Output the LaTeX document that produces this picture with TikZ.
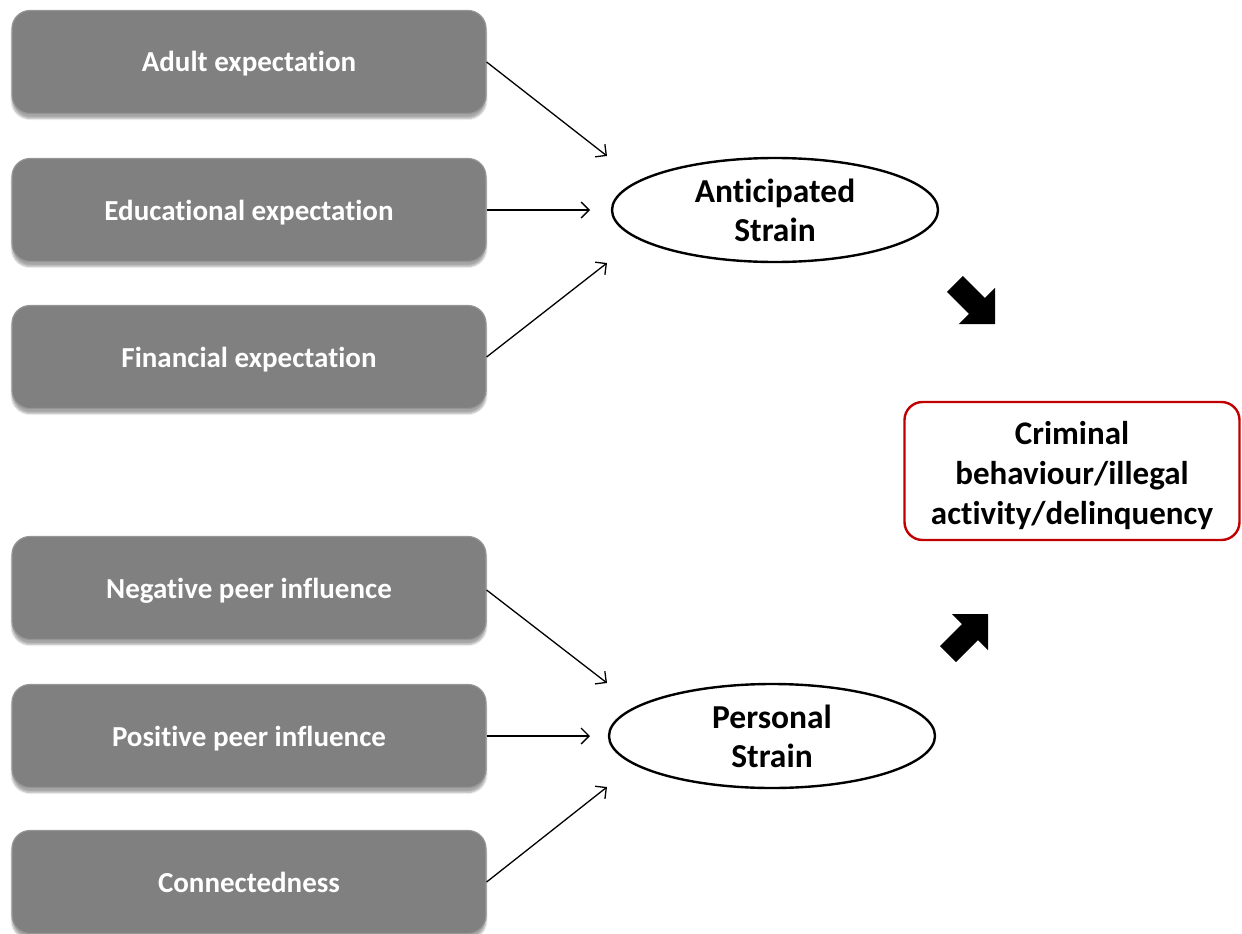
\documentclass[tikz,border=0pt]{standalone}
\usepackage{fontspec}
\setmainfont{Carlito}[Ligatures={NoCommon}]
\usetikzlibrary{arrows.meta,shapes.geometric,shadows.blur}

\definecolor{boxgray}{RGB}{128,128,128}
\definecolor{boxrim}{RGB}{150,150,150}
\definecolor{outred}{RGB}{192,0,0}

\tikzset{
  factor/.style={rectangle, rounded corners=18pt, fill=boxgray,
    draw=boxrim, line width=1.2pt,
    minimum width=474pt, minimum height=103pt, inner sep=0pt,
    text height=26pt, text depth=6pt,
    text=white, font=\bfseries\fontsize{29}{34}\selectfont,
    blur shadow={shadow xshift=0pt, shadow yshift=-5pt, shadow blur steps=8, shadow opacity=35}},
  strain/.style={ellipse, draw=black, line width=2.4pt, fill=white,
    minimum width=326pt, minimum height=104pt, inner sep=0pt,
    align=center, font=\bfseries\fontsize{33.5}{39}\selectfont},
  outcome/.style={rectangle, rounded corners=18pt, draw=outred, line width=2.4pt,
    minimum width=335pt, minimum height=138pt, inner sep=0pt,
    text height=113pt, text depth=7pt,
    align=center, font=\bfseries\fontsize{33}{40}\selectfont},
  link/.style={line width=1.3pt, -{Straight Barb[length=8pt,width=16pt,line width=1.3pt]}},
  blockarrow/.style={fill=black, draw=none}
}

\begin{document}
\begin{tikzpicture}[x=1pt,y=-1pt]
  \useasboundingbox (0,0) rectangle (1242,934);

  % predictor boxes
  \node[factor] (adult) at (249,62)  {Adult expectation};
  \node[factor] (edu)   at (249,210) {Educational expectation};
  \node[factor] (fin)   at (249,357) {Financial expectation};
  \node[factor] (neg)   at (249,588) {Negative peer influence};
  \node[factor] (pos)   at (249,736) {Positive peer influence};
  \node[factor] (conn)  at (249,882) {Connectedness};

  % strain types
  \node[strain] (antic) at (775,210) {Anticipated\\Strain};
  \node[strain] (pers)  at (772,736) {Personal\\Strain};

  % outcome
  \node[outcome] (crim) at (1072,471) {Criminal\\behaviour/illegal\\activity/delinquency};

  % arrow end points in front of the ellipses
  \coordinate (a1) at (607,156);
  \coordinate (a2) at (590,210);
  \coordinate (a3) at (607,263);
  \coordinate (p1) at (607,683);
  \coordinate (p2) at (590,736);
  \coordinate (p3) at (607,787);

  \draw[link] (adult.east) -- (a1);
  \draw[link] (edu.east)   -- (a2);
  \draw[link] (fin.east)   -- (a3);
  \draw[link] (neg.east |- 0,590) -- (p1);
  \draw[link] (pos.east)   -- (p2);
  \draw[link] (conn.east)  -- (p3);

  % thick block arrows toward the outcome
  \coordinate (tipA) at (995,324);
  \coordinate (tipB) at (988,614);
  \begin{scope}[shift={(tipA)}, rotate=-45]
    \fill[blockarrow] (0,0) -- (-25.5,25.5) -- (-25.5,11.3) -- (-56.6,11.3)
      -- (-56.6,-11.3) -- (-25.5,-11.3) -- (-25.5,-25.5) -- cycle;
  \end{scope}
  \begin{scope}[shift={(tipB)}, rotate=45]
    \fill[blockarrow] (0,0) -- (-25.5,25.5) -- (-25.5,11.3) -- (-56.6,11.3)
      -- (-56.6,-11.3) -- (-25.5,-11.3) -- (-25.5,-25.5) -- cycle;
  \end{scope}
\end{tikzpicture}
\end{document}
